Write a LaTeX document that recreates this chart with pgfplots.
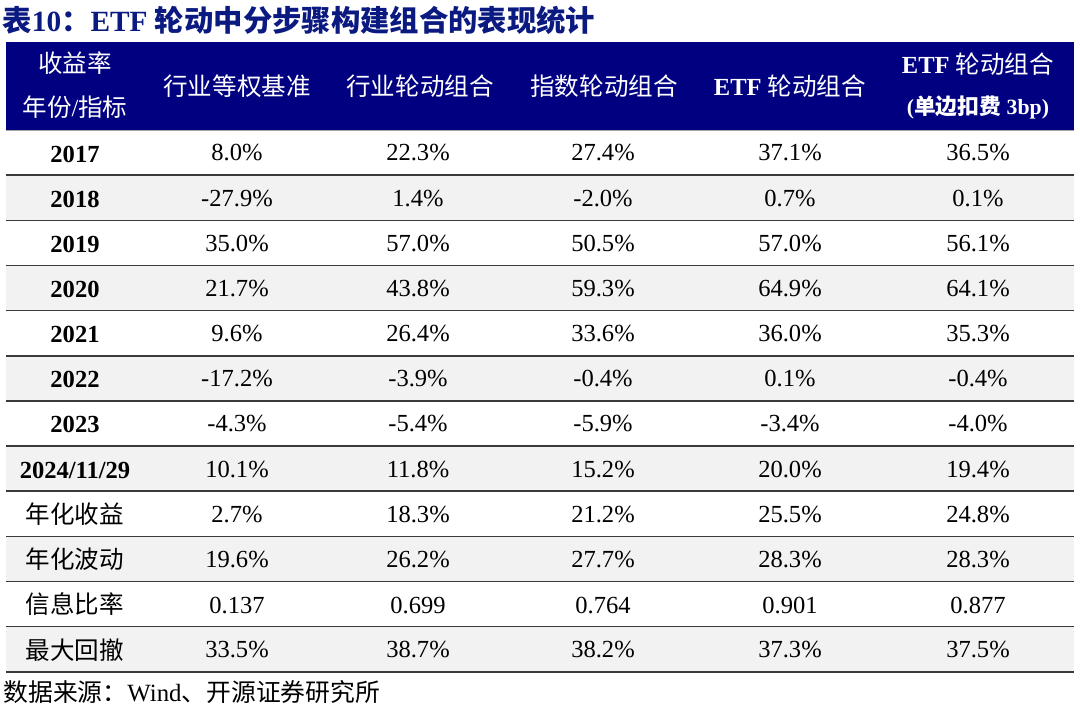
\documentclass[border=0pt]{standalone}
\usepackage{fontspec}
\setmainfont{Liberation Serif}
\newfontfamily\cjk{Noto Sans CJK SC}
\usepackage{pgfplots}
\usepackage{pgfplotstable}
\pgfplotsset{compat=1.18}

\definecolor{hdr}{HTML}{000080}
\definecolor{ttl}{HTML}{0B1A80}
\definecolor{stripe}{HTML}{F2F2F2}
\definecolor{rowline}{HTML}{3A3A3A}

% percentage rows (r = row index, 0 = 2017 ... 11 = max drawdown)
\pgfplotstableread{
r c1 c2 c3 c4 c5
0 8.0 22.3 27.4 37.1 36.5
1 -27.9 1.4 -2.0 0.7 0.1
2 35.0 57.0 50.5 57.0 56.1
3 21.7 43.8 59.3 64.9 64.1
4 9.6 26.4 33.6 36.0 35.3
5 -17.2 -3.9 -0.4 0.1 -0.4
6 -4.3 -5.4 -5.9 -3.4 -4.0
7 10.1 11.8 15.2 20.0 19.4
8 2.7 18.3 21.2 25.5 24.8
9 19.6 26.2 27.7 28.3 28.3
11 33.5 38.7 38.2 37.3 37.5
}\pct
% information ratio
\pgfplotstableread{
r c1 c2 c3 c4 c5
10 0.137 0.699 0.764 0.901 0.877
}\ratio
\pgfplotstableread{
r lab
0 2017
1 2018
2 2019
3 2020
4 2021
5 2022
6 2023
7 2024/11/29
}\years
\pgfplotstableread{
r lab
8 年化收益
9 年化波动
10 信息比率
11 最大回撤
}\metrics

\newcommand{\bodyfont}{\fontsize{9.7}{11}\selectfont}

\begin{document}
\begin{tikzpicture}
\begin{axis}[
    width=15cm, height=9.875cm, scale only axis,
    xmin=0, xmax=1080, ymin=0, ymax=711,
    y dir=reverse,
    hide axis, clip=false,
    cell/.style={only marks, mark=none, nodes near coords,
        point meta=explicit symbolic,
        every node near coord/.append style={anchor=center, inner sep=0pt,
            font=\bodyfont, text=black}},
]
% header band and stripes
\fill[hdr] (axis cs:6,42) rectangle (axis cs:1074,130);
\fill[stripe] (axis cs:6,175.15) rectangle (axis cs:1074,220.3);
\fill[stripe] (axis cs:6,265.45) rectangle (axis cs:1074,310.6);
\fill[stripe] (axis cs:6,355.75) rectangle (axis cs:1074,400.9);
\fill[stripe] (axis cs:6,446.05) rectangle (axis cs:1074,491.2);
\fill[stripe] (axis cs:6,536.35) rectangle (axis cs:1074,581.5);
\fill[stripe] (axis cs:6,626.65) rectangle (axis cs:1074,671.8);
\draw[gray!70, line width=0.5pt] (axis cs:6,130.5) -- (axis cs:1074,130.5);
\pgfplotsinvokeforeach{175.15,220.3,265.45,310.6,355.75,400.9,446.05,491.2,536.35,581.5,626.65,671.8}{
    \draw[rowline, line width=0.6pt] (axis cs:6,#1) -- (axis cs:1074,#1);
}

% title, header and source
\node[anchor=west, inner sep=0pt, text=ttl, font=\fontsize{11.6}{13}\selectfont\bfseries]
    at (axis cs:2,20) {{\cjk 表}10{\cjk ：}ETF {\cjk 轮动中分步骤构建组合的表现统计}};
\begin{scope}[every node/.style={inner sep=0pt, text=white, font=\bodyfont}]
\node at (axis cs:75,63) {\cjk 收益率};
\node at (axis cs:75,107) {{\cjk 年份}/{\cjk 指标}};
\node at (axis cs:237,86) {\cjk 行业等权基准};
\node at (axis cs:420,86) {\cjk 行业轮动组合};
\node at (axis cs:604,86) {\cjk 指数轮动组合};
\node at (axis cs:790,86) {\textbf{ETF} {\cjk 轮动组合}};
\node at (axis cs:978,64) {\textbf{ETF} {\cjk 轮动组合}};
\node[font=\fontsize{8.6}{10}\selectfont\bfseries] at (axis cs:978,107) {({\cjk 单边扣费} 3bp)};
\end{scope}
\node[anchor=west, inner sep=0pt, font=\fontsize{9.8}{11}\selectfont]
    at (axis cs:3,692) {{\cjk 数据来源：}Wind{\cjk 、开源证券研究所}};

% row labels
\addplot[cell, every node near coord/.append style={font=\bodyfont\bfseries}]
    table[x expr=75, y expr={154+45.15*\thisrow{r}}, meta=lab] {\years};
\addplot[cell, every node near coord/.append style={font=\bodyfont\cjk}]
    table[x expr=75, y expr={153+45.15*\thisrow{r}}, meta=lab] {\metrics};

% percentage cells
\addplot[cell, nodes near coords={\pgfplotspointmeta\%}] table[x expr=237, y expr={153+45.15*\thisrow{r}}, meta=c1] {\pct};
\addplot[cell, nodes near coords={\pgfplotspointmeta\%}] table[x expr=418, y expr={153+45.15*\thisrow{r}}, meta=c2] {\pct};
\addplot[cell, nodes near coords={\pgfplotspointmeta\%}] table[x expr=603, y expr={153+45.15*\thisrow{r}}, meta=c3] {\pct};
\addplot[cell, nodes near coords={\pgfplotspointmeta\%}] table[x expr=790, y expr={153+45.15*\thisrow{r}}, meta=c4] {\pct};
\addplot[cell, nodes near coords={\pgfplotspointmeta\%}] table[x expr=978, y expr={153+45.15*\thisrow{r}}, meta=c5] {\pct};

% information ratio cells
\addplot[cell] table[x expr=237, y expr={154+45.15*\thisrow{r}}, meta=c1] {\ratio};
\addplot[cell] table[x expr=418, y expr={154+45.15*\thisrow{r}}, meta=c2] {\ratio};
\addplot[cell] table[x expr=603, y expr={154+45.15*\thisrow{r}}, meta=c3] {\ratio};
\addplot[cell] table[x expr=790, y expr={154+45.15*\thisrow{r}}, meta=c4] {\ratio};
\addplot[cell] table[x expr=978, y expr={154+45.15*\thisrow{r}}, meta=c5] {\ratio};
\end{axis}
\pgfresetboundingbox
\useasboundingbox (current axis.south west) rectangle (current axis.north east);
\end{tikzpicture}
\end{document}
